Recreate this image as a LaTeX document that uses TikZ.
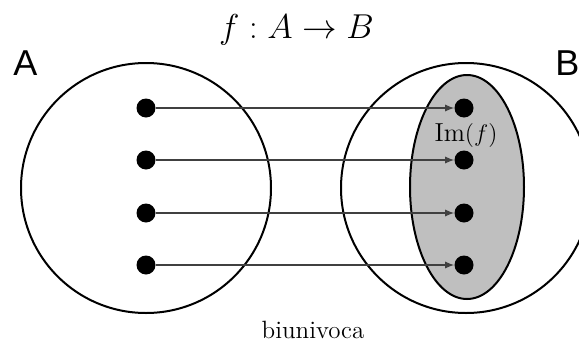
\documentclass[tikz,border=0pt]{standalone}
\usepackage{amsmath,amssymb}
\usepackage{fontspec}
\newfontfamily\labelfont{Liberation Sans}
\usetikzlibrary{positioning,calc,shapes.geometric,arrows.meta}

\begin{document}
\begin{tikzpicture}[
    x=0.5pt, y=-0.5pt,
    setcirc/.style={circle, draw, line width=1pt, minimum size=125pt, inner sep=0pt},
    image/.style={ellipse, draw, line width=1pt, fill=black!25, minimum width=57pt, minimum height=112pt, inner sep=0pt},
    elem/.style={circle, fill=black, inner sep=0pt, minimum size=9.5pt},
    maparrow/.style={-{Latex[length=4.5pt,width=3.6pt]}, black!75, line width=0.55pt},
    setname/.style={font=\labelfont\fontsize{18}{20}\selectfont, anchor=base west, inner sep=0pt},
]
\useasboundingbox (0,0) rectangle (579,343);
\clip (0,0) rectangle (579,343);
% the two sets
\node[setcirc] (setA) at (146,188) {};
\node[setcirc] (setB) at (466,188) {};
\node[image] (imf) at (467,187) {};
\node[setname] (labA) at (13,75) {A};
\node[setname] (labB) at (555,75) {B};
% elements and the map
\foreach \i/\y in {1/108,2/160,3/213,4/265}{
  \node[elem] (a\i) at (146,\y) {};
  \node[elem] (b\i) at (464,\y) {};
  \draw[maparrow] (a\i) -- (b\i);
}
\node[font=\fontsize{13}{15}\selectfont, anchor=base] (imlabel) at (466,141) {$\mathrm{Im}(f)$};
\node[font=\fontsize{18.5}{21}\selectfont, anchor=base] (title) at (296.5,38) {$f : A \to B$};
\node[font=\fontsize{12.5}{14}\selectfont, anchor=base] (kind) at (313,338) {biunivoca};
\end{tikzpicture}
\end{document}
